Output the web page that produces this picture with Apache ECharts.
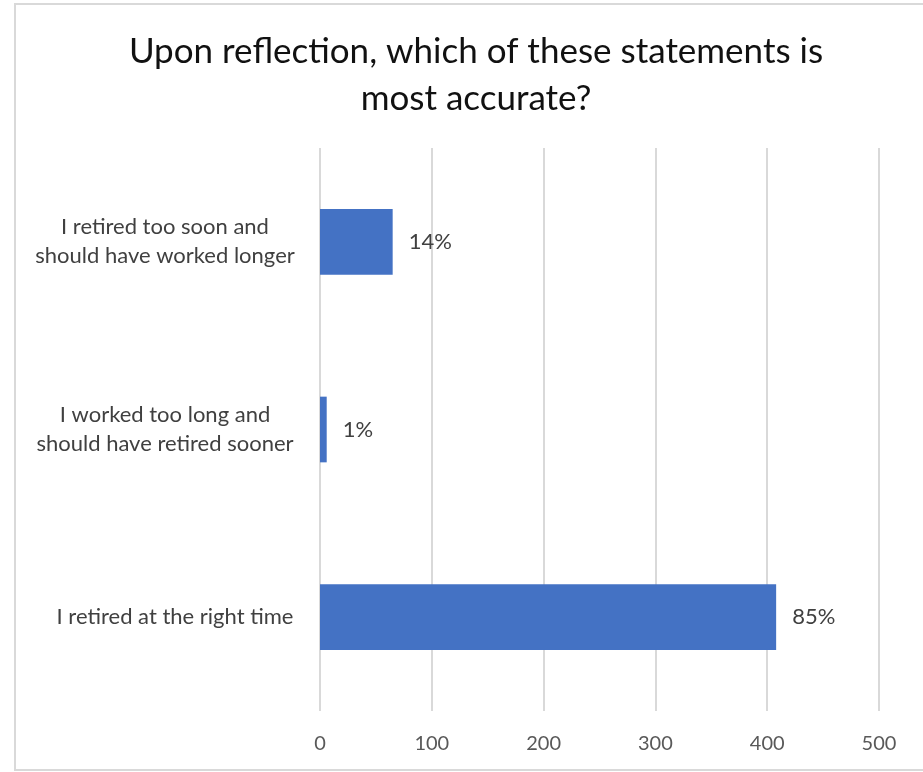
<!DOCTYPE html>
<html>
<head>
<meta charset="utf-8">
<style>
  html, body { margin: 0; padding: 0; background: #ffffff; }
  #chart { width: 923px; height: 772px; }
</style>
<script src="https://cdn.jsdelivr.net/npm/echarts@6/dist/echarts.min.js"></script>
</head>
<body>
<div id="chart"></div>
<script>
// Survey answers, listed from the bottom of the axis to the top
const categories = [
  'I retired at the right time',
  'I worked too long and\nshould have retired sooner',
  'I retired too soon and\nshould have worked longer'
];
// Number of respondents per answer
const counts = [408, 6, 65];
// Value axis ticks
const axisTicks = [0, 100, 200, 300, 400, 500];

const total = counts.reduce((a, b) => a + b, 0);
const FONT = 'Lato, "Open Sans", sans-serif';

const chart = echarts.init(document.getElementById('chart'), null, { renderer: 'canvas' });

chart.setOption({
  backgroundColor: '#ffffff',
  animation: false,
  title: {
    text: 'Upon reflection, which of these statements is\nmost accurate?',
    left: 471,
    textAlign: 'center',
    top: 23,
    textStyle: {
      fontFamily: FONT,
      fontSize: 35,
      fontWeight: 'normal',
      color: '#111111',
      lineHeight: 47
    }
  },
  graphic: [{
    type: 'rect',
    shape: { x: 15, y: 4, width: 920, height: 766 },
    style: { fill: 'none', stroke: '#d9d9d9', lineWidth: 2 },
    silent: true,
    z: -10
  }],
  grid: { left: 320, right: 44, top: 148, bottom: 61, containLabel: false },
  xAxis: {
    type: 'value',
    min: axisTicks[0],
    max: axisTicks[axisTicks.length - 1],
    interval: axisTicks[1] - axisTicks[0],
    axisLine: { show: false },
    axisTick: { show: false },
    splitLine: { show: true, lineStyle: { color: '#d9d9d9', width: 2 } },
    axisLabel: {
      margin: 23,
      fontFamily: FONT,
      fontSize: 20,
      color: '#595959'
    }
  },
  yAxis: {
    type: 'category',
    data: categories,
    axisLine: { show: false },
    axisTick: { show: false },
    axisLabel: {
      margin: 155,
      align: 'center',
      fontFamily: FONT,
      fontSize: 22,
      lineHeight: 29,
      color: '#404040',
      formatter: function (v) {
        return v.indexOf('\n') === -1 ? '{one|' + v + '}' : v;
      },
      rich: {
        one: {
          fontFamily: FONT,
          fontSize: 22,
          color: '#404040',
          padding: [0, 0, 0, 20]
        }
      }
    }
  },
  series: [{
    type: 'bar',
    data: counts,
    barCategoryGap: '65%',
    itemStyle: { color: '#4472C4' },
    label: {
      show: true,
      position: 'right',
      distance: 16,
      fontFamily: FONT,
      fontSize: 22,
      color: '#404040',
      formatter: function (p) {
        return Math.round(p.value / total * 100) + '%';
      }
    }
  }]
});
</script>
</body>
</html>
